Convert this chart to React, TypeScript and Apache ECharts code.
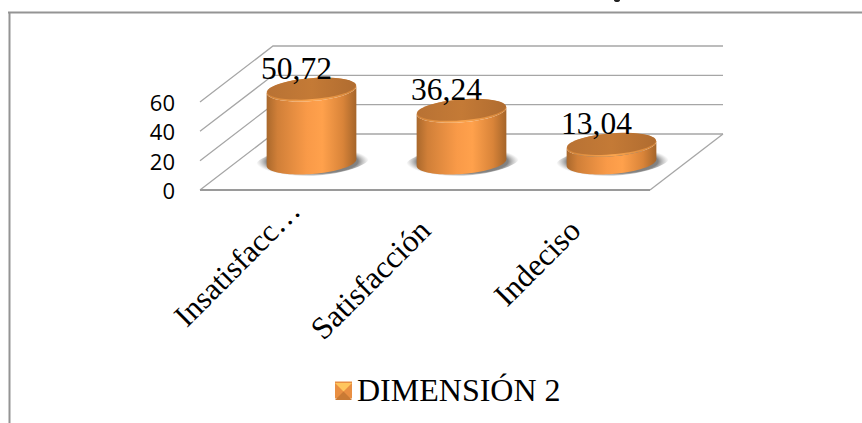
import React, { useEffect, useRef } from "react";
import * as echarts from "echarts";

const categories = ["Insatisfacc…", "Satisfacción", "Indeciso"];
const values = [50.72, 36.24, 13.04];
const valueLabels = ["50,72", "36,24", "13,04"];
const wallTicks = [0, 20, 40, 60];
const seriesName = "DIMENSIÓN 2";

const SERIF = "'Liberation Serif', 'Times New Roman', serif";
const DEPTH_X = 73;
const DEPTH_Y = -56;
const TILT = (-4.5 * Math.PI) / 180;
const RX = 45;
const RY = 11.5;

// Samples a tilted ellipse between two angles, as polygon vertices.
function arc(cx: number, cy: number, rx: number, ry: number, from: number, to: number) {
  const pts: number[][] = [];
  const steps = 48;
  for (let i = 0; i <= steps; i++) {
    const t = from + ((to - from) * i) / steps;
    const px = rx * Math.cos(t);
    const py = ry * Math.sin(t);
    pts.push([
      cx + px * Math.cos(TILT) - py * Math.sin(TILT),
      cy + px * Math.sin(TILT) + py * Math.cos(TILT),
    ]);
  }
  return pts;
}

const bodyFill = new echarts.graphic.LinearGradient(0, 0, 1, 0, [
  { offset: 0, color: "#A9682C" },
  { offset: 0.12, color: "#D07F38" },
  { offset: 0.45, color: "#F99A48" },
  { offset: 0.62, color: "#FFA14C" },
  { offset: 0.85, color: "#D98439" },
  { offset: 1, color: "#A5652A" },
]);
const capFill = new echarts.graphic.LinearGradient(0, 0, 1, 0, [
  { offset: 0, color: "#B87234" },
  { offset: 0.5, color: "#C47A36" },
  { offset: 1, color: "#B06C30" },
]);
const rimFill = new echarts.graphic.LinearGradient(0, 0, 1, 0, [
  { offset: 0, color: "#D08238" },
  { offset: 0.5, color: "#FBA650" },
  { offset: 1, color: "#D08238" },
]);
const shadowFill = new echarts.graphic.RadialGradient(0.5, 0.5, 0.5, [
  { offset: 0, color: "rgba(90,90,90,1)" },
  { offset: 0.8, color: "rgba(110,110,110,0.85)" },
  { offset: 1, color: "rgba(170,170,170,0)" },
]);

// Back walls and floor of the 3D plot box, one polyline for each axis tick.
function renderWall(params: any, api: any) {
  const sys = params.coordSys;
  const left = sys.x;
  const right = sys.x + sys.width;
  const tick = api.value(0);
  const y = api.coord([0, tick])[1];
  const style = { stroke: "#A6A6A6", lineWidth: 1.3, fill: "none" };
  const children: any[] = [
    {
      type: "polyline",
      shape: { points: [[left, y], [left + DEPTH_X, y + DEPTH_Y], [right + DEPTH_X, y + DEPTH_Y]] },
      style,
    },
  ];
  if (tick === 0) {
    children.push({
      type: "polyline",
      shape: { points: [[right, y], [right + DEPTH_X, y + DEPTH_Y]] },
      style,
    });
    children.push({
      type: "line",
      shape: { x1: left, y1: y, x2: right, y2: y },
      style: { stroke: "#9A9A9A", lineWidth: 2 },
    });
  }
  return { type: "group", children };
}

// A tilted cylinder standing halfway into the floor's depth.
function renderCylinder(params: any, api: any) {
  const idx = api.value(0);
  const val = api.value(1);
  const base = api.coord([idx, 0]);
  const top = api.coord([idx, val]);
  const cx = base[0] + DEPTH_X / 2;
  const by = base[1] + DEPTH_Y / 2 + 0.5;
  const ty = top[1] + DEPTH_Y / 2 + 2;
  const body = [...arc(cx, by, RX, RY, 0, Math.PI), ...arc(cx, ty, RX, RY, Math.PI, 0)];
  return {
    type: "group",
    children: [
      {
        type: "polygon",
        shape: { points: arc(cx + 1, by - 1, RX + 12, RY + 3, 0, Math.PI * 2) },
        style: { fill: shadowFill },
      },
      { type: "polygon", shape: { points: body }, style: { fill: bodyFill } },
      {
        type: "polygon",
        shape: { points: arc(cx, ty, RX, RY, 0, Math.PI * 2) },
        style: { fill: rimFill },
      },
      {
        type: "polygon",
        shape: { points: arc(cx, ty - 1, RX - 0.5, RY - 1, 0, Math.PI * 2) },
        style: { fill: capFill },
      },
      {
        type: "text",
        x: cx - 15,
        y: ty - 5,
        style: {
          text: valueLabels[idx],
          font: `31.5px ${SERIF}`,
          fill: "#000",
          align: "center",
          verticalAlign: "bottom",
        },
        z2: 20,
      },
    ],
  };
}

export default function App() {
  const ref = useRef<HTMLDivElement>(null);

  useEffect(() => {
    document.body.style.margin = "0";
    const chart = echarts.init(ref.current!, null, { renderer: "svg" });
    chart.setOption({
      animation: false,
      backgroundColor: "#fff",
      grid: { left: 200, right: 212, top: 102, bottom: 233 },
      xAxis: {
        type: "category",
        // The clipped first label runs further up along its slant than the others.
        data: categories.map((name, i) =>
          i === 0 ? { value: name, textStyle: { padding: [0, -28, 0, 0], fontSize: 31 } } : name
        ),
        axisLine: { show: false },
        axisTick: { show: false },
        axisLabel: {
          rotate: 45,
          margin: 35,
          interval: 0,
          fontFamily: SERIF,
          fontSize: 31.5,
          color: "#000",
        },
      },
      yAxis: {
        type: "value",
        min: 0,
        max: 60,
        interval: 20,
        splitLine: { show: false },
        axisLine: { show: false },
        axisTick: { show: false },
        axisLabel: { margin: 25, fontFamily: "'Open Sans'", fontSize: 22, color: "#000" },
      },
      legend: {
        left: 335,
        top: 374,
        itemWidth: 17,
        itemHeight: 17,
        itemGap: 6,
        icon: "rect",
        data: [{ name: seriesName, itemStyle: { color: "#E98F42" } }],
        textStyle: { fontFamily: SERIF, fontSize: 32, color: "#000" },
        padding: 0,
      },
      series: [
        {
          type: "custom",
          name: "walls",
          coordinateSystem: "cartesian2d",
          encode: { y: 0 },
          data: wallTicks.map((t) => [t]),
          renderItem: renderWall,
          z: 1,
          silent: true,
        },
        {
          type: "custom",
          name: seriesName,
          coordinateSystem: "cartesian2d",
          encode: { x: 0, y: 1 },
          data: values.map((v, i) => [i, v]),
          itemStyle: { color: "#E98F42" },
          renderItem: renderCylinder,
          z: 2,
        },
      ],
      graphic: [
        { type: "line", shape: { x1: 8, y1: 12.5, x2: 862, y2: 12.5 }, style: { stroke: "#949494", lineWidth: 2 } },
        { type: "line", shape: { x1: 9.5, y1: 12, x2: 9.5, y2: 423 }, style: { stroke: "#949494", lineWidth: 2 } },
        { type: "ellipse", shape: { cx: 617, cy: 0.5, rx: 3, ry: 1.5 }, style: { fill: "#222" } },
        // Bevelled facets of the legend swatch.
        { type: "polygon", z: 50, shape: { points: [[335, 383], [352, 383], [343.5, 391.5]] }, style: { fill: "#FFC65E" } },
        { type: "polygon", z: 50, shape: { points: [[335, 400], [352, 400], [343.5, 391.5]] }, style: { fill: "#C97A34" } },
      ],
    });
    return () => chart.dispose();
  }, []);

  return <div ref={ref} style={{ width: 862, height: 423, position: "absolute", left: 0, top: 0 }} />;
}
